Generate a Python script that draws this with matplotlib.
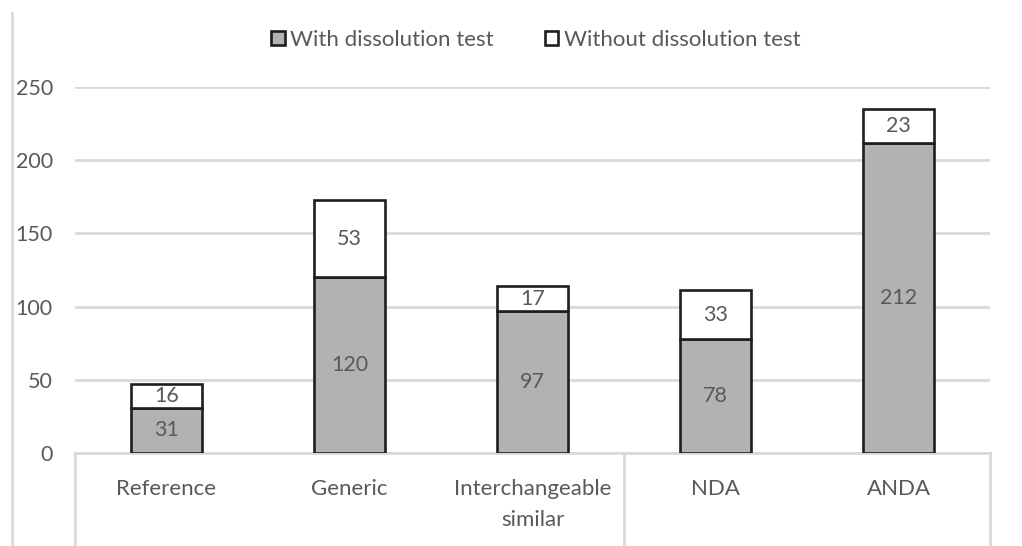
import matplotlib.pyplot as plt
from matplotlib.lines import Line2D
from matplotlib.patches import Patch

categories = ["Reference", "Generic", "Interchangeable\nsimilar", "NDA", "ANDA"]
with_test = [31, 120, 97, 78, 212]
without_test = [16, 53, 17, 33, 23]
yticks = [0, 50, 100, 150, 200, 250]

plt.rcParams['font.family'] = ['Lato', 'DejaVu Sans']
text_c = '#595959'
grid_c = '#d9d9d9'
fill_c = '#b1b2b4'
edge_c = '#1e1e1e'

W, H = 1022, 546
fig = plt.figure(figsize=(W / 100, H / 100), dpi=100)
ax = fig.add_axes([75 / W, (H - 453) / H, (990 - 75) / W, (453 - 87) / H])

x = list(range(len(categories)))
bw = 0.39
ax.bar(x, with_test, width=bw, color=fill_c, edgecolor=edge_c, linewidth=1.9, zorder=3)
ax.bar(x, without_test, width=bw, bottom=with_test, color='white',
       edgecolor=edge_c, linewidth=1.9, zorder=3)

for i in x:
    ax.text(i, with_test[i] / 2, str(with_test[i]), ha='center', va='center',
            fontsize=15.5, color=text_c, zorder=4)
    ax.text(i, with_test[i] + without_test[i] / 2, str(without_test[i]), ha='center',
            va='center', fontsize=15.5, color=text_c, zorder=4)

ax.set_xlim(-0.5, len(categories) - 0.5)
ax.set_ylim(0, 250)
ax.set_yticks(yticks)
ax.yaxis.grid(True, color=grid_c, linewidth=2.0, zorder=0)
ax.set_axisbelow(True)
for s in ['top', 'right', 'left']:
    ax.spines[s].set_visible(False)
ax.spines['bottom'].set_color(grid_c)
ax.spines['bottom'].set_linewidth(2.0)
ax.tick_params(axis='y', length=0, pad=16, labelsize=15.5, labelcolor=text_c)
ax.tick_params(axis='x', length=0, pad=19, labelsize=16, labelcolor=text_c)
ax.set_xticks(x)
ax.set_xticklabels(categories, linespacing=1.65, va='top')

# category table separators below the axis
for xv in [-0.5, 2.5, len(categories) - 0.5]:
    xf = ax.transData.transform((xv, 0))[0]
    xf = fig.transFigure.inverted().transform((xf, 0))[0]
    fig.add_artist(Line2D([xf, xf], [0, (H - 453) / H], color=grid_c, linewidth=2.0))

# left border line
fig.add_artist(Line2D([12 / W, 12 / W], [0, (H - 13) / H], color=grid_c, linewidth=2.0))

handles = [Patch(facecolor=fill_c, edgecolor=edge_c, linewidth=1.9),
           Patch(facecolor='white', edgecolor=edge_c, linewidth=1.9)]
fig.legend(handles, ["With dissolution test", "Without dissolution test"],
           loc='center', bbox_to_anchor=(536 / W, (H - 40) / H), ncol=2, frameon=False,
           fontsize=16, labelcolor=text_c, handlelength=0.6, handleheight=0.6,
           handletextpad=0.25, columnspacing=2.3)

fig.savefig('out.png', dpi=100)
